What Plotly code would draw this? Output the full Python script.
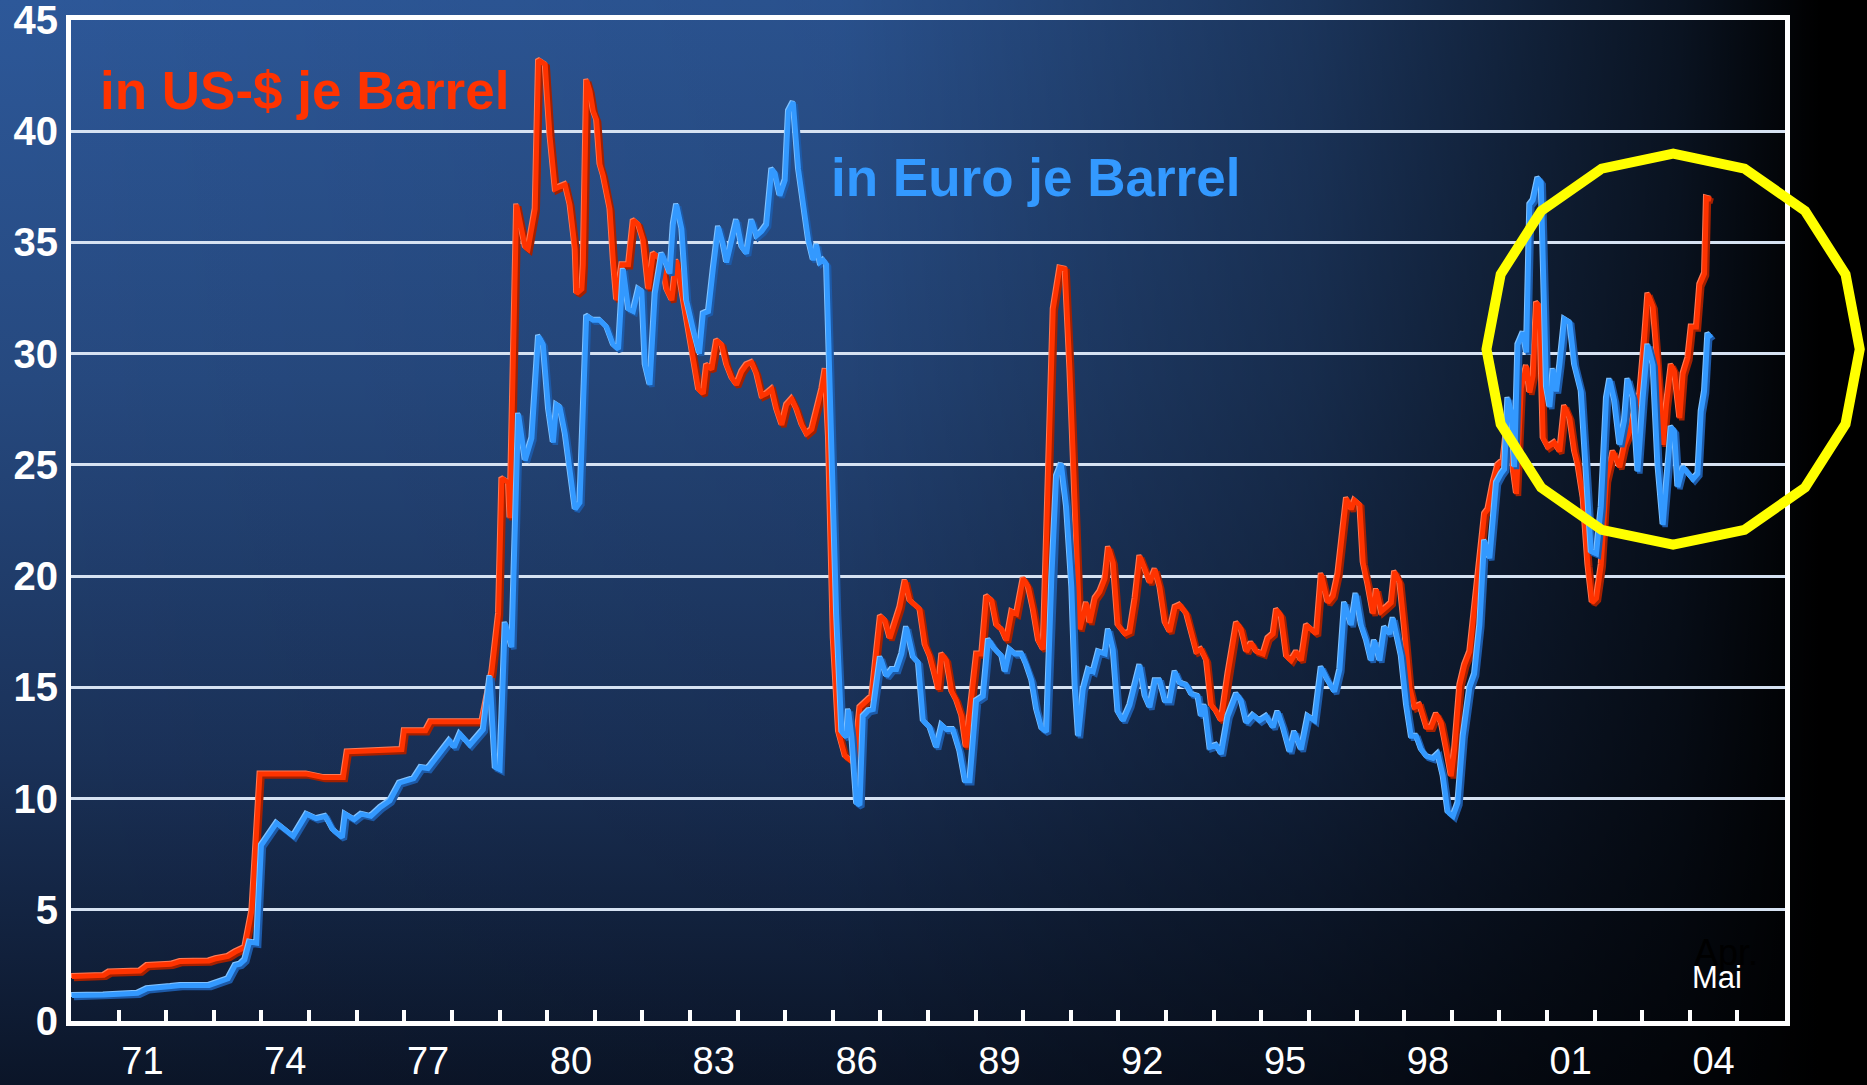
import base64
import math
import plotly.graph_objects as go

# ---------------- data (decimal years, price per barrel) ----------------
usd_t = [1970.02, 1970.69, 1970.8, 1971.45, 1971.6, 1972.1, 1972.3, 1972.9, 1973.05, 1973.3,
         1973.45, 1973.65, 1973.8, 1973.97, 1974.95, 1975.3, 1975.72, 1975.8, 1976.95, 1977.0,
         1977.45, 1977.55, 1978.63, 1978.84, 1978.98, 1979.05, 1979.19, 1979.22, 1979.36, 1979.54,
         1979.6, 1979.75, 1979.82, 1979.96, 1980.06, 1980.17, 1980.27, 1980.38, 1980.48, 1980.59,
         1980.62, 1980.73, 1980.76, 1980.83, 1980.9, 1980.97, 1981.04, 1981.11, 1981.18, 1981.32,
         1981.39, 1981.46, 1981.57, 1981.71, 1981.81, 1981.92, 1982.02, 1982.13, 1982.23, 1982.41,
         1982.51, 1982.62, 1982.72, 1982.79, 1982.86, 1982.97, 1983.07, 1983.18, 1983.28, 1983.35,
         1983.46, 1983.56, 1983.67, 1983.77, 1983.88, 1983.98, 1984.09, 1984.19, 1984.3, 1984.4,
         1984.51, 1984.61, 1984.72, 1984.82, 1984.93, 1985.03, 1985.14, 1985.24, 1985.35, 1985.45,
         1985.56, 1985.66, 1985.77, 1985.84, 1985.91, 1986.01, 1986.12, 1986.26, 1986.45, 1986.57,
         1986.71, 1986.82, 1987.0, 1987.1, 1987.2, 1987.31, 1987.41, 1987.52, 1987.62, 1987.73,
         1987.83, 1987.94, 1988.04, 1988.15, 1988.22, 1988.29, 1988.39, 1988.5, 1988.6, 1988.71,
         1988.8, 1988.92, 1989.02, 1989.13, 1989.23, 1989.34, 1989.44, 1989.55, 1989.65, 1989.76,
         1989.86, 1990.0, 1990.11, 1990.21, 1990.32, 1990.42, 1990.53, 1990.63, 1990.77, 1990.88,
         1990.98, 1991.09, 1991.19, 1991.33, 1991.4, 1991.51, 1991.61, 1991.72, 1991.79, 1991.89,
         1991.99, 1992.14, 1992.24, 1992.35, 1992.45, 1992.56, 1992.66, 1992.77, 1992.87, 1992.98,
         1993.08, 1993.19, 1993.29, 1993.43, 1993.53, 1993.64, 1993.74, 1993.85, 1993.95, 1994.06,
         1994.16, 1994.3, 1994.48, 1994.58, 1994.69, 1994.79, 1994.9, 1995.04, 1995.14, 1995.25,
         1995.32, 1995.42, 1995.53, 1995.63, 1995.74, 1995.84, 1995.95, 1996.05, 1996.16, 1996.26,
         1996.4, 1996.51, 1996.61, 1996.72, 1996.79, 1996.89, 1996.96, 1997.07, 1997.14, 1997.24,
         1997.35, 1997.42, 1997.52, 1997.63, 1997.73, 1997.8, 1997.91, 1998.01, 1998.12, 1998.22,
         1998.33, 1998.47, 1998.57, 1998.68, 1998.78, 1998.89, 1998.99, 1999.06, 1999.17, 1999.27,
         1999.38, 1999.48, 1999.59, 1999.69, 1999.76, 1999.87, 1999.97, 2000.08, 2000.15, 2000.22,
         2000.29, 2000.36, 2000.46, 2000.57, 2000.64, 2000.71, 2000.78, 2000.85, 2000.92, 2001.02,
         2001.16, 2001.27, 2001.37, 2001.48, 2001.58, 2001.65, 2001.76, 2001.86, 2001.95, 2002.04,
         2002.14, 2002.25, 2002.39, 2002.53, 2002.63, 2002.74, 2002.84, 2002.95, 2003.05, 2003.12,
         2003.23, 2003.33, 2003.44, 2003.51, 2003.61, 2003.68, 2003.79, 2003.86, 2003.96, 2004.03,
         2004.14, 2004.21, 2004.31, 2004.35, 2004.45]
usd_v = [2.0, 2.05, 2.2, 2.25, 2.5, 2.55, 2.68, 2.7, 2.8, 2.9,
         3.1, 3.3, 4.97, 11.1, 11.1, 10.95, 10.95, 12.1, 12.2, 13.05,
         13.05, 13.45, 13.45, 15.7, 18.3, 24.4, 24.2, 22.6, 36.7, 34.8,
         34.7, 36.5, 43.2, 43.0, 39.8, 37.4, 37.5, 37.6, 36.7, 34.7,
         32.7, 32.9, 34.0, 42.3, 41.8, 40.9, 40.5, 38.5, 38.0, 36.5,
         34.2, 32.4, 34.0, 34.0, 36.0, 35.8, 35.1, 32.9, 34.5, 34.2,
         32.9, 32.4, 34.2, 33.3, 32.2, 31.1, 29.75, 28.4, 28.2, 29.5,
         29.3, 30.6, 30.4, 29.5, 28.9, 28.6, 29.2, 29.5, 29.6, 29.1,
         28.1, 28.2, 28.4, 27.5, 26.8, 27.7, 27.96, 27.5, 26.8, 26.4,
         26.6, 27.5, 28.4, 29.3, 26.2, 17.2, 13.0, 11.9, 11.6, 14.1,
         14.4, 14.6, 18.2, 18.0, 17.2, 17.9, 18.6, 19.8, 18.9, 18.7,
         18.5, 16.9, 16.4, 15.5, 14.9, 16.5, 16.2, 14.8, 14.4, 13.7,
         12.3, 14.6, 16.5, 16.5, 19.1, 18.9, 17.8, 17.6, 17.1, 18.4,
         18.3, 19.9, 19.5, 18.5, 17.1, 16.7, 24.9, 32.0, 33.85, 33.8,
         29.3, 23.1, 17.6, 18.8, 17.9, 19.0, 19.3, 19.9, 21.3, 20.6,
         17.8, 17.4, 17.5, 19.0, 20.9, 20.3, 19.7, 20.3, 19.5, 17.9,
         17.5, 18.6, 18.7, 18.3, 17.4, 16.6, 16.7, 16.2, 14.2, 13.9,
         13.5, 15.6, 17.9, 17.6, 16.6, 17.0, 16.6, 16.5, 17.2, 17.4,
         18.5, 18.2, 16.4, 16.2, 16.6, 16.2, 17.8, 17.6, 17.4, 20.1,
         18.8, 19.1, 20.1, 22.2, 23.5, 23.0, 23.4, 23.2, 20.6, 19.6,
         18.3, 19.4, 18.4, 18.6, 18.8, 20.2, 19.7, 17.6, 15.0, 14.1,
         14.2, 13.2, 13.2, 13.8, 13.4, 12.2, 11.0, 12.2, 15.1, 16.0,
         16.6, 18.6, 20.6, 22.8, 23.0, 24.2, 25.0, 25.2, 26.6, 27.4,
         24.8, 23.7, 28.45, 29.45, 28.25, 29.0, 32.3, 32.1, 26.2, 25.8,
         26.0, 25.6, 27.65, 27.1, 25.6, 25.0, 23.5, 20.5, 18.8, 19.0,
         20.5, 24.3, 25.6, 24.9, 25.9, 26.5, 27.4, 28.2, 30.7, 32.7,
         32.1, 29.5, 25.9, 27.7, 29.5, 29.2, 27.1, 29.1, 29.8, 31.2,
         31.2, 33.1, 33.6, 37.0, 36.95]

eur_t = [1970.02, 1970.69, 1971.4, 1971.6, 1972.1, 1972.3, 1972.9, 1973.1, 1973.3, 1973.45,
         1973.55, 1973.65, 1973.75, 1973.9, 1974.0, 1974.32, 1974.67, 1974.95, 1975.15, 1975.35,
         1975.5, 1975.7, 1975.76, 1975.95, 1976.1, 1976.3, 1976.5, 1976.7, 1976.9, 1977.2,
         1977.35, 1977.5, 1977.7, 1977.95, 1978.05, 1978.17, 1978.38, 1978.52, 1978.66, 1978.8,
         1978.91, 1979.01, 1979.12, 1979.26, 1979.4, 1979.54, 1979.68, 1979.82, 1979.92, 1980.03,
         1980.13, 1980.2, 1980.27, 1980.38, 1980.48, 1980.59, 1980.69, 1980.83, 1980.97, 1981.11,
         1981.25, 1981.39, 1981.5, 1981.6, 1981.71, 1981.81, 1981.92, 1981.99, 1982.06, 1982.16,
         1982.27, 1982.41, 1982.51, 1982.58, 1982.65, 1982.72, 1982.83, 1982.93, 1983.07, 1983.2,
         1983.28, 1983.39, 1983.49, 1983.6, 1983.7, 1983.77, 1983.88, 1983.98, 1984.09, 1984.19,
         1984.3, 1984.4, 1984.51, 1984.61, 1984.72, 1984.79, 1984.89, 1985.0, 1985.07, 1985.17,
         1985.28, 1985.38, 1985.49, 1985.59, 1985.66, 1985.73, 1985.8, 1985.87, 1985.98, 1986.08,
         1986.19, 1986.29, 1986.33, 1986.4, 1986.5, 1986.57, 1986.64, 1986.75, 1986.85, 1987.0,
         1987.13, 1987.24, 1987.34, 1987.45, 1987.55, 1987.69, 1987.8, 1987.9, 1988.04, 1988.18,
         1988.29, 1988.39, 1988.53, 1988.67, 1988.78, 1988.88, 1989.02, 1989.16, 1989.27, 1989.41,
         1989.55, 1989.62, 1989.72, 1989.83, 1989.97, 1990.07, 1990.18, 1990.28, 1990.39, 1990.49,
         1990.6, 1990.7, 1990.8, 1990.91, 1991.02, 1991.09, 1991.16, 1991.26, 1991.37, 1991.47,
         1991.58, 1991.72, 1991.79, 1991.89, 1991.99, 1992.1, 1992.24, 1992.35, 1992.45, 1992.56,
         1992.66, 1992.77, 1992.87, 1992.98, 1993.08, 1993.19, 1993.29, 1993.43, 1993.53, 1993.67,
         1993.74, 1993.81, 1993.92, 1994.06, 1994.16, 1994.3, 1994.48, 1994.58, 1994.69, 1994.83,
         1994.97, 1995.11, 1995.25, 1995.35, 1995.46, 1995.6, 1995.7, 1995.84, 1995.98, 1996.12,
         1996.26, 1996.4, 1996.54, 1996.65, 1996.75, 1996.89, 1996.99, 1997.1, 1997.21, 1997.31,
         1997.38, 1997.49, 1997.59, 1997.7, 1997.77, 1997.84, 1997.94, 1998.05, 1998.15, 1998.26,
         1998.36, 1998.47, 1998.61, 1998.71, 1998.82, 1998.92, 1999.03, 1999.13, 1999.24, 1999.38,
         1999.48, 1999.59, 1999.69, 1999.8, 1999.87, 1999.94, 2000.04, 2000.11, 2000.18, 2000.25,
         2000.32, 2000.39, 2000.5, 2000.57, 2000.64, 2000.71, 2000.81, 2000.88, 2000.99, 2001.06,
         2001.13, 2001.2, 2001.27, 2001.37, 2001.48, 2001.58, 2001.72, 2001.79, 2001.86, 2001.93,
         2002.04, 2002.14, 2002.25, 2002.32, 2002.42, 2002.53, 2002.63, 2002.7, 2002.81, 2002.91,
         2003.02, 2003.12, 2003.23, 2003.33, 2003.44, 2003.54, 2003.61, 2003.68, 2003.75, 2003.86,
         2003.96, 2004.07, 2004.17, 2004.24, 2004.31, 2004.38, 2004.45]
eur_v = [1.15, 1.17, 1.25, 1.45, 1.55, 1.6, 1.6, 1.75, 1.9, 2.5,
         2.55, 2.75, 3.55, 3.5, 7.9, 8.9, 8.3, 9.3, 9.1, 9.2,
         8.6, 8.25, 9.3, 9.05, 9.3, 9.2, 9.6, 9.9, 10.7, 10.9,
         11.4, 11.35, 11.9, 12.6, 12.3, 12.9, 12.4, 12.75, 13.1, 15.5,
         11.4, 11.3, 17.9, 16.8, 27.3, 25.2, 26.2, 30.8, 30.4, 27.5,
         26.0, 27.7, 27.6, 26.4, 24.8, 23.0, 23.3, 31.7, 31.5, 31.5,
         31.2, 30.4, 30.2, 33.8, 32.0, 31.9, 32.9, 32.8, 29.5, 28.6,
         32.7, 34.5, 34.0, 33.6, 35.8, 36.7, 35.6, 32.4, 31.1, 30.0,
         31.8, 31.9, 33.8, 35.7, 34.9, 34.1, 35.1, 36.0, 34.8, 34.5,
         36.0, 35.3, 35.5, 35.8, 38.3, 38.1, 37.1, 37.8, 40.9, 41.3,
         38.3, 36.9, 35.1, 34.2, 34.9, 34.1, 34.2, 34.0, 26.2, 18.3,
         13.0, 12.75, 14.0, 12.8, 9.8, 9.7, 13.7, 13.95, 14.0, 16.35,
         15.5, 15.8, 15.8, 16.5, 17.7, 16.35, 16.1, 13.5, 13.2, 12.3,
         13.3, 13.1, 13.1, 12.1, 10.8, 10.8, 14.4, 14.6, 17.15, 16.7,
         16.4, 15.7, 16.7, 16.5, 16.5, 16.0, 15.3, 14.0, 13.15, 13.0,
         19.9, 24.5, 25.05, 23.1, 19.5, 15.1, 12.8, 14.9, 15.8, 15.7,
         16.6, 16.5, 17.6, 16.7, 13.9, 13.5, 14.2, 15.1, 16.0, 14.6,
         14.1, 15.3, 15.3, 14.4, 14.4, 15.7, 15.2, 15.1, 14.7, 14.6,
         13.7, 14.2, 12.3, 12.4, 12.0, 13.7, 14.7, 14.4, 13.4, 13.75,
         13.5, 13.7, 13.2, 13.9, 13.2, 12.1, 13.0, 12.2, 13.7, 13.5,
         15.9, 15.3, 14.8, 15.8, 18.8, 17.8, 19.2, 17.8, 17.1, 16.2,
         17.1, 16.2, 17.7, 17.4, 18.1, 17.4, 16.4, 14.2, 12.8, 12.8,
         12.2, 11.9, 11.8, 12.0, 11.0, 9.4, 9.2, 9.8, 12.8, 15.0,
         15.6, 17.8, 21.6, 20.8, 22.6, 24.2, 24.6, 24.8, 28.0, 27.4,
         24.9, 30.4, 30.95, 30.05, 36.7, 36.9, 37.9, 37.7, 28.5, 27.6,
         29.3, 28.3, 29.5, 31.55, 31.4, 29.5, 28.3, 25.8, 22.8, 21.1,
         21.0, 23.1, 28.0, 28.85, 27.9, 25.9, 27.0, 28.85, 28.0, 24.7,
         28.0, 30.4, 29.5, 25.0, 22.3, 25.0, 26.7, 26.5, 24.0, 24.9,
         24.6, 24.35, 24.6, 27.4, 28.3, 30.9, 30.7]

year_ticks = list(range(1971, 2006))
label_years = list(range(1971, 2005, 3))
label_text = [f"{y % 100:02d}" for y in label_years]
y_ticks = list(range(0, 50, 5))

# highlighted region (yellow ring): centre and radii in data units
ring_center = (2003.65, 30.2)
ring_radius = (3.92, 8.79)

# ---------------- geometry ----------------
W, H = 1867, 1085
ML, MR, MT, MB = 71, 82, 20, 64
X0, X1 = 1970, 2006
Y0, Y1 = 0, 45
PW, PH = W - ML - MR, H - MT - MB

RED, RED_SH, RED_HL = "#ff3300", "#a32000", "#ff7a55"
BLUE, BLUE_SH, BLUE_HL = "#3399ff", "#1d5aa8", "#80c2ff"
FONT = "Liberation Sans, Arial, sans-serif"

# background gradient as an inline svg image
svg = f'''<svg xmlns="http://www.w3.org/2000/svg" width="{W}" height="{H}" viewBox="0 0 {W} {H}" preserveAspectRatio="none">
<defs>
<linearGradient id="v" x1="0" y1="0" x2="0" y2="1">
<stop offset="0" stop-color="#2d5899"/>
<stop offset="0.35" stop-color="#26497f"/>
<stop offset="0.7" stop-color="#1a3158"/>
<stop offset="1" stop-color="#0b1528"/>
</linearGradient>
<linearGradient id="h" x1="0" y1="0" x2="1" y2="0">
<stop offset="0" stop-color="#000" stop-opacity="0"/>
<stop offset="0.45" stop-color="#000" stop-opacity="0.08"/>
<stop offset="0.7" stop-color="#000" stop-opacity="0.4"/>
<stop offset="0.9" stop-color="#000" stop-opacity="0.78"/>
<stop offset="0.975" stop-color="#000" stop-opacity="1"/>
</linearGradient>
</defs>
<rect width="{W}" height="{H}" fill="url(#v)"/>
<rect width="{W}" height="{H}" fill="url(#h)"/>
</svg>'''
bg_src = "data:image/svg+xml;base64," + base64.b64encode(svg.encode()).decode()

# each line is drawn as shadow (offset down-right), highlight (offset up-left), core
layers = [
    (usd_t, usd_v, RED_SH, 2.0, 2.0, 5.5, None),
    (usd_t, usd_v, RED_HL, -1.0, -1.0, 5.0, None),
    (usd_t, usd_v, RED, 0.0, 0.0, 5.0, "in US-$ je Barrel"),
    (eur_t, eur_v, BLUE_SH, 2.0, 2.0, 5.5, None),
    (eur_t, eur_v, BLUE_HL, -1.0, -1.0, 5.0, None),
    (eur_t, eur_v, BLUE, 0.0, 0.0, 5.0, "in Euro je Barrel"),
]

fig = go.Figure()
overlay_axes = {}
for i, (t, v, color, offx, offy, width, name) in enumerate(layers):
    n = i + 2
    sx = offx * (X1 - X0) / PW
    sy = offy * (Y1 - Y0) / PH
    overlay_axes[f"xaxis{n}"] = dict(range=[X0 - sx, X1 - sx], overlaying="x",
                                     visible=False, fixedrange=True)
    overlay_axes[f"yaxis{n}"] = dict(range=[Y0 + sy, Y1 + sy], overlaying="y",
                                     visible=False, fixedrange=True)
    fig.add_trace(go.Scatter(x=t, y=v, mode="lines", line=dict(color=color, width=width),
                             xaxis=f"x{n}", yaxis=f"y{n}", name=name or "",
                             hoverinfo="skip" if name is None else None,
                             showlegend=False))

# yellow ring: 16-gon in paper coordinates
cx, cy = ring_center
rx, ry = ring_radius
pts = []
for k in range(16):
    a = math.pi / 2 + k * 2 * math.pi / 16
    px = (cx + rx * math.cos(a) - X0) / (X1 - X0)
    py = (cy + ry * math.sin(a) - Y0) / (Y1 - Y0)
    pts.append(f"{px:.5f},{py:.5f}")
ring_path = "M " + " L ".join(pts) + " Z"

fig.update_layout(
    width=W, height=H,
    margin=dict(l=ML, r=MR, t=MT, b=MB, pad=0, autoexpand=False),
    paper_bgcolor="#0b1528",
    plot_bgcolor="rgba(0,0,0,0)",
    showlegend=False,
    font=dict(family=FONT, color="white"),
    images=[dict(source=bg_src, xref="paper", yref="paper",
                 x=-ML / PW, y=1 + MT / PH, sizex=W / PW, sizey=H / PH,
                 xanchor="left", yanchor="top", sizing="stretch", layer="below")],
    xaxis=dict(range=[X0, X1], tickmode="array",
               tickvals=[y + 0.5 for y in label_years], ticktext=label_text,
               ticks="", showgrid=False, zeroline=False, automargin=False,
               showline=True, linecolor="white", linewidth=5, mirror=True,
               tickfont=dict(size=38, color="white", family=FONT),
               ticklabelstandoff=2, ticklabeloverflow="allow",
               minor=dict(tickmode="array", tickvals=year_ticks, ticks="inside",
                          ticklen=11, tickwidth=4, tickcolor="white", showgrid=False),
               fixedrange=True),
    yaxis=dict(range=[Y0, Y1], tickmode="array", tickvals=y_ticks,
               ticks="", showgrid=True, gridcolor="#d6e2f2", gridwidth=3,
               zeroline=False, showline=True, linecolor="white", linewidth=5, mirror=True,
               automargin=False, ticklabeloverflow="allow",
               tickfont=dict(size=40, color="white", family=FONT, weight="bold"),
               ticklabelstandoff=0, fixedrange=True),
    shapes=[dict(type="path", path=ring_path, xref="paper", yref="paper",
                 line=dict(color="#ffff00", width=10), fillcolor="rgba(0,0,0,0)",
                 layer="above")],
    annotations=[
        dict(text="in US-$ je Barrel", x=1970.565, y=41.84, xref="x", yref="y",
             xanchor="left", yanchor="middle", showarrow=False,
             font=dict(size=53, color=RED, family=FONT, weight="bold")),
        dict(text="in Euro je Barrel", x=1985.915, y=37.9, xref="x", yref="y",
             xanchor="left", yanchor="middle", showarrow=False,
             font=dict(size=53, color=BLUE, family=FONT, weight="bold")),
        dict(text="Apr.", x=2004.05, y=3.08, xref="x", yref="y",
             xanchor="left", yanchor="middle", showarrow=False,
             font=dict(size=36, color="black", family=FONT)),
        dict(text="Mai", x=2004.0, y=1.96, xref="x", yref="y",
             xanchor="left", yanchor="middle", showarrow=False,
             font=dict(size=31, color="white", family=FONT)),
    ],
    **overlay_axes,
)

fig.write_html("out.html", config={"displayModeBar": False},
               post_script="document.body.style.margin='0';document.body.style.overflow='hidden';")
